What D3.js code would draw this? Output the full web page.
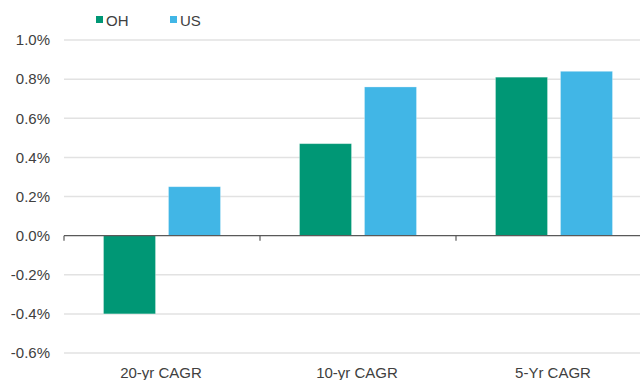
<!DOCTYPE html>
<html>
<head>
<meta charset="utf-8">
<script src="https://cdn.jsdelivr.net/npm/d3@7"></script>
<style>
  html, body { margin: 0; padding: 0; background: #fff; }
  svg { display: block; font-family: "Liberation Sans", Arial, sans-serif; }
</style>
</head>
<body>
<svg id="chart" width="640" height="380"></svg>
<script>
// Compound annual growth rates, percent
const categories = ["20-yr CAGR", "10-yr CAGR", "5-Yr CAGR"];
const seriesNames = ["OH", "US"];
const ohValues = [-0.40, 0.47, 0.81];
const usValues = [0.25, 0.76, 0.84];
const yTicks = [-0.6, -0.4, -0.2, 0.0, 0.2, 0.4, 0.6, 0.8, 1.0];

const colors = { OH: "#009775", US: "#41B6E6" };
const values = { OH: ohValues, US: usValues };

const svg = d3.select("#chart");
const plotLeft = 64, plotRight = 652, plotTop = 40, plotBottom = 353;

const x = d3.scaleBand().domain(categories).range([plotLeft, plotRight]).paddingInner(0).paddingOuter(0);
const xs = d3.scaleBand().domain(seriesNames).range([0, x.bandwidth()]).paddingInner(0.2).paddingOuter(0.608);
const y = d3.scaleLinear().domain([-0.6, 1.0]).range([plotBottom, plotTop]);

// Horizontal gridlines
svg.append("g")
  .selectAll("line")
  .data(yTicks.filter(d => d !== 0))
  .join("line")
  .attr("x1", plotLeft).attr("x2", 640)
  .attr("y1", d => y(d)).attr("y2", d => y(d))
  .attr("stroke", "#e2e2e2").attr("stroke-width", 1.5);

// Y-axis labels (plain hyphen for negatives)
const yAxis = d3.axisLeft(y).tickValues(yTicks).tickFormat(d => d.toFixed(1) + "%").tickSize(0).tickPadding(14);
const yg = svg.append("g").attr("transform", `translate(${plotLeft},0)`).call(yAxis);
yg.select(".domain").remove();
yg.selectAll("text").attr("font-size", 15).attr("fill", "#404040")
  .attr("font-family", "'Liberation Sans', Arial, sans-serif");

// Bars
const rows = [];
categories.forEach((c, i) => seriesNames.forEach(s => rows.push({ c, s, v: values[s][i] })));
svg.append("g")
  .selectAll("rect")
  .data(rows)
  .join("rect")
  .attr("x", d => x(d.c) + xs(d.s))
  .attr("width", xs.bandwidth())
  .attr("y", d => y(Math.max(0, d.v)))
  .attr("height", d => Math.abs(y(d.v) - y(0)))
  .attr("fill", d => colors[d.s])
  .attr("stroke", "#ffffff").attr("stroke-opacity", 0.35).attr("stroke-width", 0.8);

// Zero baseline with category ticks
const xg = svg.append("g").attr("transform", `translate(0,${y(0)})`);
xg.append("line").attr("x1", plotLeft).attr("x2", 640).attr("y1", 0).attr("y2", 0)
  .attr("stroke", "#595959").attr("stroke-width", 1.2);
xg.selectAll("line.tick")
  .data(categories.map(c => x(c)).concat([plotRight]))
  .join("line").attr("class", "tick")
  .attr("x1", d => d).attr("x2", d => d).attr("y1", 0).attr("y2", 5)
  .attr("stroke", "#595959").attr("stroke-width", 1.2);

// Category labels
svg.append("g")
  .selectAll("text")
  .data(categories)
  .join("text")
  .attr("x", d => x(d) + x.bandwidth() / 2 - 1)
  .attr("y", 378)
  .attr("text-anchor", "middle")
  .attr("font-size", 15).attr("fill", "#404040")
  .text(d => d);

// Legend
const legendX = [96, 170];
const lg = svg.append("g");
seriesNames.forEach((s, i) => {
  lg.append("rect").attr("x", legendX[i]).attr("y", 16).attr("width", 7).attr("height", 7).attr("fill", colors[s]);
  lg.append("text").attr("x", legendX[i] + 10).attr("y", 25.5)
    .attr("font-size", 15).attr("fill", "#404040").text(s);
});
</script>
</body>
</html>
